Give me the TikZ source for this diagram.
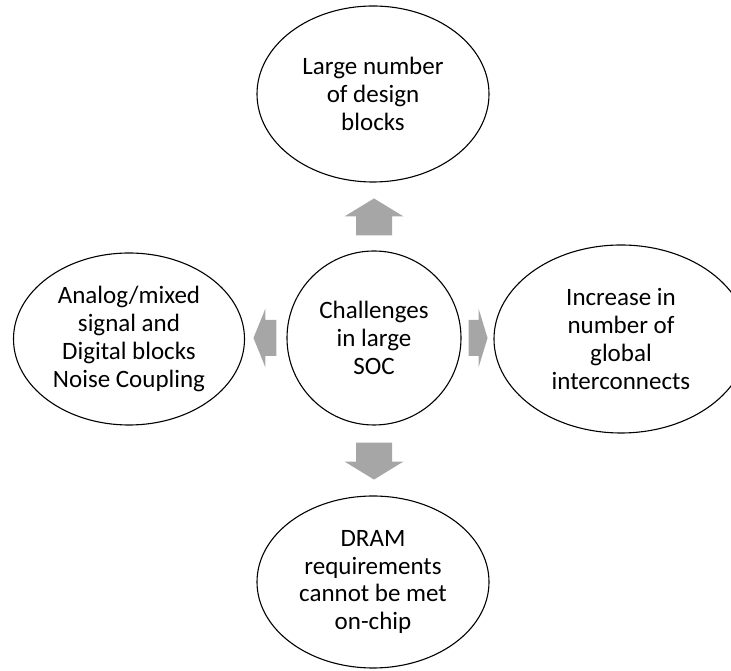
\documentclass[tikz,border=0pt]{standalone}
\usepackage{fontspec}
\setmainfont{Carlito}
\usetikzlibrary{shapes.geometric, calc}
\definecolor{arrowgray}{RGB}{166,166,166}

% block arrow: #1 tail point, #2 angle, #3 shaft length, #4 head length
\newcommand{\blockarrow}[4]{%
  \fill[arrowgray, shift={#1}, rotate=#2] (0,-18) -- (#3,-18) -- (#3,-29.5) -- ({#3+#4},0) -- (#3,29.5) -- (#3,18) -- (0,18) -- cycle;}

\begin{document}
\begin{tikzpicture}[x=1pt, y=1pt,
    bubble/.style={draw, ellipse, line width=1.1pt, inner sep=0pt, align=center, font=\fontsize{25}{27.7}\selectfont},
    hub/.style={draw, circle, line width=1.1pt, inner sep=0pt, align=center, font=\fontsize{25}{27.7}\selectfont}]
    \clip (0,0) rectangle (731,671);
    \node[hub, minimum size=174pt] (soc) at (374,333) {Challenges\\in large\\SOC};
    \node[bubble, minimum width=232pt, minimum height=176pt] (top) at (373,577) {Large number\\of design\\blocks};
    \node[bubble, minimum width=232pt, minimum height=172pt] (bottom) at (373,89) {DRAM\\requirements\\cannot be met\\on-chip};
    \node[bubble, minimum width=231pt, minimum height=172pt] (left) at (129,332) {Analog/mixed\\signal and\\Digital blocks\\Noise Coupling};
    \node[bubble, minimum width=254pt, minimum height=188pt] (right) at (621,332) {Increase in\\number of\\global\\interconnects};

    \blockarrow{($(soc.north)+(0,15)$)}{90}{19}{18}
    \blockarrow{($(soc.south)+(0,-17)$)}{-90}{19}{18}
    \blockarrow{($(soc.west)+(-10,0)$)}{180}{11}{12}
    \blockarrow{($(soc.east)+(7,0)$)}{0}{10}{9}
\end{tikzpicture}
\end{document}
